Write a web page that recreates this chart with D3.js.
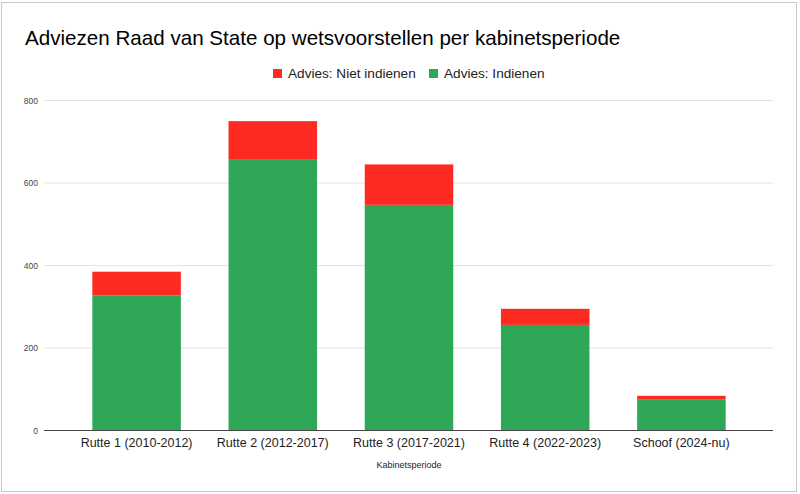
<!DOCTYPE html>
<html>
<head>
<meta charset="utf-8">
<script src="https://cdn.jsdelivr.net/npm/d3@7"></script>
<style>
body{margin:0;background:#fff;}
text{font-family:Arial,"Liberation Sans",sans-serif;}
</style>
</head>
<body>
<svg id="chart" width="800" height="494"></svg>
<script>
// data
const periods = ["Rutte 1 (2010-2012)", "Rutte 2 (2012-2017)", "Rutte 3 (2017-2021)", "Rutte 4 (2022-2023)", "Schoof (2024-nu)"];
const indienen = [327, 658, 547, 256, 76];
const nietIndienen = [58, 92, 98, 39, 8];
const yTicks = [0, 200, 400, 600, 800];
const seriesNames = ["Advies: Niet indienen", "Advies: Indienen"];
const colors = {"Advies: Indienen": "#2ea757", "Advies: Niet indienen": "#fd2a21"};

let svg = d3.select("#chart");

// outer frame
svg.append("rect")
    .attr("x", 1.5).attr("y", 2.5)
    .attr("width", 795).attr("height", 489)
    .attr("fill", "#fff")
    .attr("stroke", "#c8c8c8");

let gridLeft = 44, gridRight = 773;
let x = d3.scaleBand()
    .domain(periods)
    .range([68.5, 749.5])
    .paddingInner(0.35)
    .paddingOuter(0.175);

let y = d3.scaleLinear()
    .domain([0, 800])
    .range([430.5, 100.5]);

// gridlines
svg.append("g").selectAll("line")
    .data(yTicks.filter(d => d > 0))
    .join("line")
    .attr("x1", gridLeft).attr("x2", gridRight)
    .attr("y1", d => y(d)).attr("y2", d => y(d))
    .attr("stroke", "#e3e3e3");

// y tick labels
svg.append("g").selectAll("text")
    .data(yTicks)
    .join("text")
    .attr("x", 38)
    .attr("y", d => y(d) + 3)
    .attr("text-anchor", "end")
    .attr("font-size", 8.5)
    .attr("fill", "#444")
    .text(d => d);

// stacked bars
let rows = periods.map((p, i) => ({period: p, "Advies: Indienen": indienen[i], "Advies: Niet indienen": nietIndienen[i]}));
let stack = d3.stack().keys(["Advies: Indienen", "Advies: Niet indienen"])(rows);

svg.append("g").selectAll("g")
    .data(stack)
    .join("g")
    .attr("fill", d => colors[d.key])
    .selectAll("rect")
    .data(d => d)
    .join("rect")
    .attr("x", d => x(d.data.period))
    .attr("width", x.bandwidth())
    .attr("y", d => y(d[1]))
    .attr("height", d => y(d[0]) - y(d[1]));

// baseline
svg.append("line")
    .attr("x1", gridLeft).attr("x2", gridRight)
    .attr("y1", y(0)).attr("y2", y(0))
    .attr("stroke", "#444");

// x labels
svg.append("g").selectAll("text")
    .data(periods)
    .join("text")
    .attr("x", d => x(d) + x.bandwidth() / 2)
    .attr("y", 446.5)
    .attr("text-anchor", "middle")
    .attr("font-size", 12.5)
    .attr("fill", "#222")
    .text(d => d);

// axis title
svg.append("text")
    .attr("x", (x.range()[0] + x.range()[1]) / 2)
    .attr("y", 468)
    .attr("text-anchor", "middle")
    .attr("font-size", 9)
    .attr("fill", "#222")
    .text("Kabinetsperiode");

// title
svg.append("text")
    .attr("x", 25)
    .attr("y", 45)
    .attr("font-size", 20.6)
    .attr("fill", "#000")
    .text("Adviezen Raad van State op wetsvoorstellen per kabinetsperiode");

// legend
let legendX = [273, 429];
let legend = svg.append("g").selectAll("g")
    .data(seriesNames)
    .join("g")
    .attr("transform", (d, i) => "translate(" + legendX[i] + ",69)");
legend.append("rect")
    .attr("width", 9).attr("height", 9)
    .attr("fill", d => colors[d]);
legend.append("text")
    .attr("x", 15)
    .attr("y", 9)
    .attr("font-size", 13.6)
    .attr("fill", "#222")
    .text(d => d);
</script>
</body>
</html>
